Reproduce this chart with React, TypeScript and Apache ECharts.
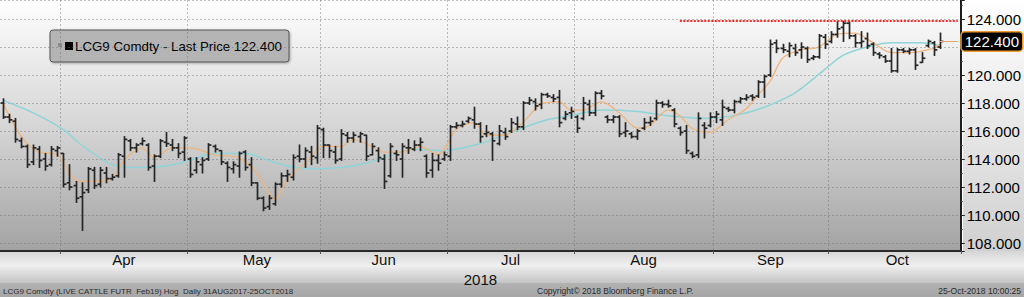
import React, { useEffect, useRef } from "react";
import * as echarts from "echarts";

// ---------- calendar / categories ----------
const FIRST_DAY = "2018-03-16";
const LAST_DAY = "2018-10-30"; // three empty sessions after the last bar
const HOLIDAYS = ["2018-03-30", "2018-05-28", "2018-07-04", "2018-09-03"];
const MONTH_NAMES = ["Jan", "Feb", "Mar", "Apr", "May", "Jun", "Jul", "Aug", "Sep", "Oct", "Nov", "Dec"];

function buildTradingDays(): string[] {
  const out: string[] = [];
  const d = new Date(FIRST_DAY + "T00:00:00Z");
  const end = new Date(LAST_DAY + "T00:00:00Z");
  while (d <= end) {
    const wd = d.getUTCDay();
    const s = d.toISOString().slice(0, 10);
    if (wd !== 0 && wd !== 6 && !HOLIDAYS.includes(s)) out.push(s);
    d.setUTCDate(d.getUTCDate() + 1);
  }
  return out;
}
const categories = buildTradingDays();

// ---------- price data ----------
const opens = [
  118.0, 117.0, 116.7, 115.3, 114.9, 113.8, 114.7, 114.0, 113.6, 114.6,
  114.4, 112.3, 112.1, 111.3, 111.8, 113.2, 112.2, 113.0, 112.6, 112.8, 114.2, 115.3, 114.8, 115.1, 115.0, 113.5, 114.2, 115.2, 115.0, 114.8, 114.5,
  114.0, 113.2, 113.6, 114.0, 114.9, 114.6, 113.7, 113.3, 113.5, 114.5, 113.6, 112.3, 111.2, 110.6, 110.8, 112.2, 112.8, 112.7, 114.2, 114.0, 114.5, 114.1,
  116.1, 115.0, 114.5, 114.0, 115.7, 115.5, 115.6, 115.7, 114.3, 114.6, 114.0, 112.8, 114.4, 114.0, 114.8, 114.7, 115.0, 114.2, 113.2, 113.9, 114.0,
  114.2, 116.3, 116.4, 116.7, 116.8, 116.5, 115.8, 115.8, 115.1, 115.9, 116.0, 116.5, 116.3, 118.0, 118.1, 117.9, 118.6, 118.4, 118.4, 116.9, 117.3,
  117.0, 116.9, 117.9, 117.3, 118.7, 117.0, 116.8, 117.0, 115.9, 115.8, 115.6, 116.2, 116.6, 116.9, 118.0, 117.9, 117.5, 116.2, 116.0, 114.4, 114.3, 116.4, 116.4,
  117.0, 116.8, 117.6, 117.5, 118.1, 118.3, 118.5, 118.5, 119.5, 120.0, 122.3, 121.9, 121.7, 121.9, 121.8, 121.9, 121.2, 121.3, 122.7,
  122.4, 122.9, 123.4, 123.7, 122.8, 122.3, 122.6, 122.2, 121.5, 121.3, 121.0, 120.3, 121.8, 121.7, 121.8, 120.9, 122.1, 122.3, 122.0,
];
const highs = [
  118.3, 117.2, 116.9, 115.5, 115.0, 115.0, 114.9, 114.4, 114.9, 114.9,
  114.4, 113.6, 112.4, 112.3, 113.4, 113.4, 113.4, 113.4, 112.9, 114.4, 115.6, 115.4, 115.1, 115.5, 115.1, 114.3, 115.4, 115.9, 115.4, 115.1, 115.6,
  114.1, 114.1, 114.1, 115.1, 115.0, 114.6, 113.8, 113.8, 114.5, 114.6, 114.1, 112.3, 111.3, 111.4, 112.3, 113.0, 113.2, 114.3, 115.0, 114.8, 114.9, 116.4,
  116.2, 115.0, 114.9, 116.1, 115.9, 115.9, 115.9, 115.7, 115.1, 114.8, 114.3, 115.1, 114.6, 115.1, 115.4, 115.3, 115.5, 114.3, 114.4, 114.3, 114.5,
  116.4, 116.6, 116.7, 117.0, 117.7, 116.6, 116.4, 115.9, 116.4, 116.2, 116.9, 117.0, 118.1, 118.4, 118.3, 118.7, 118.7, 118.6, 118.9, 117.4, 117.7,
  117.1, 118.4, 118.2, 118.8, 118.9, 117.1, 117.1, 117.1, 116.6, 115.9, 116.1, 116.9, 117.0, 118.2, 118.1, 118.2, 117.6, 116.3, 116.4, 114.5, 117.3, 116.6, 117.3,
  117.4, 118.2, 117.7, 118.2, 118.4, 118.6, 118.6, 119.6, 120.0, 122.5, 122.5, 122.2, 122.3, 122.2, 122.3, 122.0, 121.4, 122.9, 122.9,
  123.1, 123.8, 123.85, 123.8, 122.9, 123.1, 123.0, 122.3, 121.6, 121.4, 121.9, 121.9, 121.9, 121.9, 121.9, 121.6, 122.5, 122.4, 123.0,
];
const lows = [
  116.9, 116.6, 115.2, 114.8, 113.4, 113.6, 113.4, 113.2, 113.5, 114.2,
  112.0, 111.8, 110.9, 108.9, 111.6, 111.9, 112.0, 112.3, 112.5, 112.7, 112.7, 114.6, 114.5, 115.0, 113.2, 112.4, 114.1, 114.9, 114.6, 114.1, 113.9,
  112.7, 113.0, 113.0, 113.9, 114.5, 113.6, 112.4, 113.0, 112.7, 113.2, 112.1, 111.1, 110.3, 110.4, 110.7, 112.0, 112.4, 112.5, 113.8, 113.4, 113.6, 113.7,
  114.1, 114.1, 113.7, 113.9, 115.2, 115.2, 115.2, 113.9, 114.3, 113.8, 111.9, 112.7, 113.9, 112.7, 114.4, 114.6, 114.6, 112.7, 112.7, 113.2, 113.9,
  113.9, 116.2, 116.3, 116.6, 116.2, 115.2, 115.6, 113.9, 115.0, 115.4, 115.9, 116.1, 116.1, 117.9, 117.5, 117.6, 118.4, 118.1, 116.3, 116.8, 116.9,
  115.9, 116.8, 117.1, 117.1, 118.3, 116.6, 116.6, 115.6, 115.6, 115.5, 115.4, 116.1, 116.4, 116.8, 117.7, 117.7, 116.3, 115.7, 114.4, 114.1, 114.1, 115.5, 116.3,
  116.6, 116.4, 117.4, 117.3, 118.0, 118.2, 118.2, 118.4, 118.4, 119.9, 121.6, 121.6, 121.3, 121.4, 121.2, 120.9, 121.1, 121.2, 121.9,
  122.3, 122.7, 122.4, 122.6, 122.0, 122.0, 121.9, 121.4, 121.2, 120.9, 120.2, 120.2, 121.6, 121.5, 120.4, 120.9, 122.0, 121.4, 121.9,
];
const closes = [
  117.0, 116.8, 115.4, 114.9, 113.6, 114.8, 113.9, 113.5, 114.7, 114.8,
  112.2, 112.0, 111.2, 111.6, 113.3, 112.1, 113.2, 112.6, 112.7, 114.3, 115.4, 114.8, 115.0, 115.3, 113.4, 114.2, 115.3, 115.1, 114.8, 114.4, 115.5,
  112.9, 113.8, 113.9, 115.0, 114.7, 113.8, 113.4, 113.6, 114.4, 113.4, 112.3, 111.2, 110.5, 111.2, 112.2, 112.8, 112.9, 114.1, 114.0, 114.6, 114.2, 116.2,
  115.0, 114.6, 113.9, 115.8, 115.5, 115.7, 115.8, 114.2, 114.9, 114.1, 112.4, 114.9, 114.3, 114.9, 114.8, 115.0, 115.2, 113.0, 113.9, 113.7, 114.3,
  116.3, 116.4, 116.5, 116.9, 116.5, 115.6, 115.9, 115.3, 116.0, 115.6, 116.6, 116.3, 118.0, 118.2, 117.8, 118.6, 118.5, 118.3, 116.6, 117.2, 117.4,
  116.2, 118.0, 117.3, 118.7, 118.5, 116.8, 117.0, 115.8, 116.0, 115.6, 116.0, 116.6, 116.7, 118.0, 117.9, 117.8, 116.5, 115.9, 114.6, 114.2, 116.9, 116.2, 117.0,
  117.2, 117.7, 117.5, 118.1, 118.3, 118.4, 118.4, 119.5, 119.9, 122.2, 121.9, 121.8, 122.1, 121.6, 122.0, 121.1, 121.3, 122.8, 122.2,
  122.9, 123.3, 123.7, 122.8, 122.3, 122.4, 122.1, 121.6, 121.4, 121.0, 120.3, 121.8, 121.7, 121.8, 120.7, 121.2, 122.4, 121.8, 122.4,
];

// moving averages: [bar index, value]
const maFast: [number, number][] = [
  [0, 118.0], [2, 116.3], [4, 115.1], [6, 114.5], [9, 114.3], [12, 112.5], [14, 112.4], [18, 112.6],
  [20, 113.9], [23, 114.8], [25, 114.1], [28, 114.8], [31, 114.8], [35, 114.3], [39, 114.1], [42, 113.0],
  [45, 111.1], [47, 112.5], [50, 113.7], [53, 114.9], [56, 114.9], [58, 115.4], [61, 114.9], [63, 114.5],
  [66, 114.5], [69, 114.9], [72, 114.3], [75, 116.1], [78, 116.6], [80, 115.7], [83, 115.7], [86, 116.6],
  [89, 117.9], [92, 118.1], [94, 117.5], [96, 117.5], [99, 118.1], [102, 117.3], [105, 116.2], [107, 116.4],
  [110, 117.5], [112, 117.1], [114, 116.2], [117, 115.9], [120, 116.8], [123, 117.6], [125, 118.6], [127, 119.6],
  [129, 121.2], [132, 121.8], [135, 122.0], [138, 122.9], [141, 123.0], [144, 122.3], [147, 121.6], [150, 121.6],
  [154, 121.9], [155, 122.2],
];
const maSlow: [number, number][] = [
  [0, 118.2], [5, 117.3], [10, 116.1], [13, 115.0], [16, 114.1], [18, 113.6], [21, 113.4], [24, 113.4],
  [27, 113.5], [30, 113.8], [35, 114.4], [40, 114.4], [44, 113.9], [47, 113.5], [51, 113.3], [56, 113.4],
  [60, 113.7], [63, 114.1], [68, 114.7], [73, 114.6], [79, 115.1], [84, 115.9], [90, 116.8], [94, 117.1],
  [99, 117.5], [105, 117.4], [110, 117.1], [116, 116.9], [121, 117.1], [126, 117.7], [131, 118.7], [136, 120.4],
  [139, 121.4], [143, 122.0], [147, 122.3], [152, 122.3], [155, 122.1],
];

const LAST_PRICE = 122.4;
const HIGH_MARK = 123.85;
const HIGH_MARK_START = 112;
const Y_MIN = 107.43;
const Y_MAX = 125.36;

const FONT = "Liberation Sans";
const BAR_COLOR = "#262626";

const monthOf = (s: string) => Number(s.slice(5, 7));
const monthStartIdx: number[] = [];
const monthMidIdx: number[] = [];
(() => {
  let start = 0;
  for (let i = 1; i <= categories.length; i++) {
    if (i === categories.length || monthOf(categories[i]) !== monthOf(categories[start])) {
      if (start > 0) {
        monthStartIdx.push(start);
        monthMidIdx.push(Math.round((start + i - 1) / 2));
      }
      start = i;
    }
  }
})();

export default function App() {
  const ref = useRef<HTMLDivElement>(null);

  useEffect(() => {
    if (!ref.current) return;
    const chart = echarts.init(ref.current, undefined, { renderer: "svg" });
    const ohlc = opens.map((o, i) => [i, o, highs[i], lows[i], closes[i]]);
    const lastIdx = closes.length - 1;
    const endCat = categories[categories.length - 1];

    const lastLabel = {
      show: true,
      position: "end",
      distance: 4,
      formatter: LAST_PRICE.toFixed(3),
      color: "#ffffff",
      backgroundColor: "#000000",
      borderColor: "#f09a30",
      borderWidth: 1.5,
      borderRadius: 3,
      padding: [2, 3, 1, 3],
      fontFamily: FONT,
      fontSize: 15,
    };
    const lastLine = { color: "#e3a868", width: 1, type: "solid" };
    const highLine = { color: "#ff2626", width: 2, type: [2, 1.5] };

    const option: any = {
      animation: false,
      backgroundColor: "#ffffff",
      grid: {
        left: 0,
        right: 61,
        top: 0,
        bottom: 46,
        show: true,
        borderWidth: 0,
        backgroundColor: new echarts.graphic.LinearGradient(0, 0, 0, 1, [
          { offset: 0, color: "#fefefe" },
          { offset: 0.5, color: "#d6d6d6" },
          { offset: 1, color: "#a3a3a3" },
        ]),
      },
      graphic: [
        {
          type: "rect",
          z: -1,
          silent: true,
          shape: { x: 963, y: 0, width: 61, height: 251 },
          style: {
            fill: new echarts.graphic.LinearGradient(0, 0, 0, 1, [
              { offset: 0, color: "#ffffff" },
              { offset: 1, color: "#d0d0d0" },
            ]),
          },
        },
        {
          type: "rect",
          z: -1,
          silent: true,
          shape: { x: 0, y: 251, width: 1024, height: 32 },
          style: {
            fill: new echarts.graphic.LinearGradient(0, 0, 0, 1, [
              { offset: 0, color: "#d6d6d6" },
              { offset: 0.45, color: "#efefef" },
              { offset: 1, color: "#c4c4c4" },
            ]),
          },
        },
        {
          type: "rect",
          z: -1,
          silent: true,
          shape: { x: 0, y: 283, width: 1024, height: 14 },
          style: {
            fill: new echarts.graphic.LinearGradient(0, 0, 0, 1, [
              { offset: 0, color: "#b2b2b2" },
              { offset: 1, color: "#a6a6a6" },
            ]),
          },
        },
        {
          type: "group",
          z: 100,
          children: [
            {
              type: "rect",
              shape: { x: 50, y: 30, width: 239, height: 32, r: 3 },
              style: {
                fill: "rgba(178,178,178,0.92)",
                stroke: "#555555",
                lineWidth: 1,
                shadowBlur: 2,
                shadowOffsetX: 1,
                shadowOffsetY: 1,
                shadowColor: "rgba(0,0,0,0.3)",
              },
            },
            { type: "rect", shape: { x: 58, y: 43, width: 4, height: 4 }, style: { fill: "#8a8a8a" } },
            { type: "rect", shape: { x: 65, y: 42, width: 8, height: 8 }, style: { fill: "#000000" } },
            {
              type: "text",
              x: 75,
              y: 46,
              style: {
                text: "LCG9 Comdty - Last Price " + closes[lastIdx].toFixed(3),
                fill: "#000000",
                font: `13.3px "${FONT}"`,
                verticalAlign: "middle",
              },
            },
          ],
        },
        {
          type: "text",
          z: 100,
          x: 3,
          y: 291,
          style: {
            text: "LCG9 Comdty (LIVE CATTLE FUTR  Feb19) Hog  Daily 31AUG2017-25OCT2018",
            fill: "#2a2a2a",
            font: `8px "${FONT}"`,
            verticalAlign: "middle",
          },
        },
        {
          type: "text",
          z: 100,
          x: 537,
          y: 291,
          style: {
            text: "Copyright\u00a9 2018 Bloomberg Finance L.P.",
            fill: "#2a2a2a",
            font: `8.5px "${FONT}"`,
            verticalAlign: "middle",
          },
        },
        {
          type: "text",
          z: 100,
          x: 1021,
          y: 291,
          style: {
            text: "25-Oct-2018 10:00:25",
            fill: "#2a2a2a",
            font: `8.5px "${FONT}"`,
            verticalAlign: "middle",
            align: "right",
          },
        },
      ],
      xAxis: {
        type: "category",
        data: categories,
        boundaryGap: true,
        name: "2018",
        nameLocation: "middle",
        nameGap: 12,
        nameTextStyle: { fontFamily: FONT, fontSize: 15, color: "#111111", verticalAlign: "top" },
        axisLine: { show: true, lineStyle: { color: "#2a2a2a", width: 2 } },
        axisTick: {
          show: true,
          length: 3,
          interval: (idx: number) => monthStartIdx.includes(idx),
          lineStyle: { color: "#555555" },
        },
        axisLabel: {
          show: true,
          margin: 1,
          interval: (idx: number) => monthMidIdx.includes(idx),
          formatter: (v: string) => MONTH_NAMES[monthOf(v) - 1],
          fontFamily: FONT,
          fontSize: 15,
          color: "#111111",
        },
        splitLine: {
          show: true,
          interval: (idx: number) => monthStartIdx.includes(idx),
          lineStyle: { color: "rgba(110,110,110,0.45)", type: [2, 2], width: 1 },
        },
      },
      yAxis: {
        type: "value",
        position: "right",
        min: Y_MIN,
        max: Y_MAX,
        splitNumber: 9,
        minInterval: 2,
        maxInterval: 2,
        axisLine: { show: true, lineStyle: { color: "#1e1e1e", width: 2 } },
        axisTick: { show: true, length: 4, lineStyle: { color: "#222222" } },
        minorTick: { show: true, splitNumber: 2, length: 2, lineStyle: { color: "#444444" } },
        axisLabel: {
          show: true,
          margin: 6,
          showMinLabel: false,
          showMaxLabel: false,
          // the label nearest the last-price box is hidden behind it
          formatter: (v: number) => (Math.abs(v - LAST_PRICE) < 1 ? "" : v.toFixed(3)),
          fontFamily: FONT,
          fontSize: 15,
          color: "#000000",
        },
        splitLine: {
          show: true,
          lineStyle: { color: "rgba(110,110,110,0.45)", type: [2, 2], width: 1 },
        },
      },
      series: [
        {
          name: "MA slow",
          type: "line",
          data: maSlow,
          smooth: 0.3,
          showSymbol: false,
          z: 1,
          lineStyle: { color: "#8fd4d8", width: 1.5 },
        },
        {
          name: "MA fast",
          type: "line",
          data: maFast,
          smooth: 0.3,
          showSymbol: false,
          z: 1,
          lineStyle: { color: "#efb47c", width: 1.3 },
          markLine: {
            silent: true,
            symbol: "none",
            label: { show: false },
            data: [
              [
                { coord: [categories[HIGH_MARK_START], HIGH_MARK], lineStyle: highLine, label: { show: false } },
                { coord: [endCat, HIGH_MARK], lineStyle: highLine, label: { show: false } },
              ],
              [
                { coord: [categories[lastIdx], LAST_PRICE], lineStyle: lastLine, label: lastLabel },
                { coord: [endCat, LAST_PRICE], lineStyle: lastLine, label: lastLabel },
              ],
            ],
          },
        },
        {
          name: "LCG9 Comdty",
          type: "custom",
          z: 3,
          data: ohlc,
          encode: { x: 0, y: [1, 2, 3, 4] },
          renderItem: (_params: any, api: any) => {
            const i = api.value(0);
            const pO = api.coord([i, api.value(1)]);
            const pH = api.coord([i, api.value(2)]);
            const pL = api.coord([i, api.value(3)]);
            const pC = api.coord([i, api.value(4)]);
            const half = api.size([1, 0])[0] * 0.48;
            const x = Math.round(pO[0]) + 0.5;
            const style = { stroke: BAR_COLOR, lineWidth: 1.7 };
            return {
              type: "group",
              children: [
                { type: "line", shape: { x1: x, y1: pH[1] - 0.5, x2: x, y2: pL[1] + 0.5 }, style },
                { type: "line", shape: { x1: x - half, y1: pO[1], x2: x, y2: pO[1] }, style },
                { type: "line", shape: { x1: x, y1: pC[1], x2: x + half, y2: pC[1] }, style },
              ],
            };
          },
        },
      ],
    };

    chart.setOption(option);
    return () => chart.dispose();
  }, []);

  return (
    <div
      ref={ref}
      style={{ position: "fixed", left: 0, top: 0, width: 1024, height: 297 }}
    />
  );
}
